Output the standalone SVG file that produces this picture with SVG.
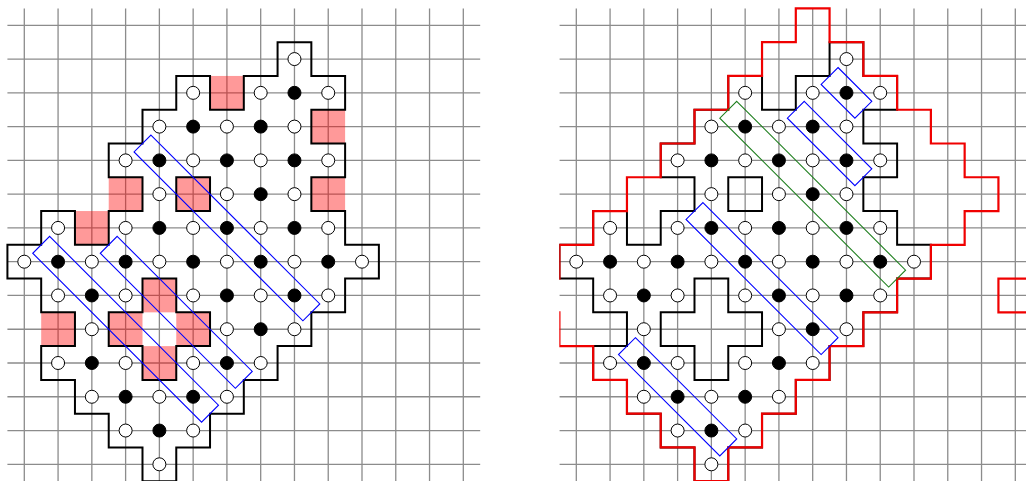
<svg xmlns="http://www.w3.org/2000/svg" xmlns:xlink="http://www.w3.org/1999/xlink" width="1026" height="481" viewBox="0 0 1026 481">
<style>
.grid{fill:none;stroke:#8c8c8c;stroke-width:1.3;vector-effect:non-scaling-stroke}
.pink{fill:#ff0000;fill-opacity:0.4;stroke:none}
.outline{fill:none;stroke:#000;stroke-width:2;stroke-linejoin:miter;vector-effect:non-scaling-stroke}
.red{fill:none;stroke:#f00000;stroke-width:2.2;vector-effect:non-scaling-stroke}
.w{fill:#fff;stroke:#000;stroke-width:1;vector-effect:non-scaling-stroke}
.b{fill:#000;stroke:#000;stroke-width:1;vector-effect:non-scaling-stroke}
.blue{fill:none;stroke:#0000ff;stroke-width:1.1;vector-effect:non-scaling-stroke}
.green{fill:none;stroke:#1f7f1f;stroke-width:1.1;vector-effect:non-scaling-stroke}
</style>
<defs>
<clipPath id="clipR"><rect x="559.3" y="0" width="480" height="481"/></clipPath>
<path id="grid" class="grid" fill="none" d="M0 -0.5V13.5M1 -0.5V13.5M2 -0.5V13.5M3 -0.5V13.5M4 -0.5V13.5M5 -0.5V13.5M6 -0.5V13.5M7 -0.5V13.5M8 -0.5V13.5M9 -0.5V13.5M10 -0.5V13.5M11 -0.5V13.5M12 -0.5V13.5M13 -0.5V13.5M-0.5 0H13.5M-0.5 1H13.5M-0.5 2H13.5M-0.5 3H13.5M-0.5 4H13.5M-0.5 5H13.5M-0.5 6H13.5M-0.5 7H13.5M-0.5 8H13.5M-0.5 9H13.5M-0.5 10H13.5M-0.5 11H13.5M-0.5 12H13.5M-0.5 13H13.5"/>
<g id="outline">
<path class="outline" fill="none" d="M7.5 0.5L8.5 0.5L8.5 1.5L9.5 1.5L9.5 2.5L8.5 2.5L8.5 3.5L9.5 3.5L9.5 4.5L8.5 4.5L8.5 5.5L9.5 5.5L9.5 6.5L10.5 6.5L10.5 7.5L9.5 7.5L9.5 8.5L8.5 8.5L8.5 9.5L7.5 9.5L7.5 10.5L6.5 10.5L6.5 11.5L5.5 11.5L5.5 12.5L4.5 12.5L4.5 13.5L3.5 13.5L3.5 12.5L2.5 12.5L2.5 11.5L1.5 11.5L1.5 10.5L0.5 10.5L0.5 9.5L1.5 9.5L1.5 8.5L0.5 8.5L0.5 7.5L-0.5 7.5L-0.5 6.5L0.5 6.5L0.5 5.5L1.5 5.5L1.5 6.5L2.5 6.5L2.5 5.5L3.5 5.5L3.5 4.5L2.5 4.5L2.5 3.5L3.5 3.5L3.5 2.5L4.5 2.5L4.5 1.5L5.5 1.5L5.5 2.5L6.5 2.5L6.5 1.5L7.5 1.5Z"/>
<path class="outline" fill="none" d="M4.5 4.5H5.5V5.5H4.5Z"/>
<path class="outline" fill="none" d="M3.5 7.5L4.5 7.5L4.5 8.5L5.5 8.5L5.5 9.5L4.5 9.5L4.5 10.5L3.5 10.5L3.5 9.5L2.5 9.5L2.5 8.5L3.5 8.5Z"/>
</g>
<g id="dots">
<circle class="w" cx="8" cy="1" r="0.1925"/>
<circle class="w" cx="5" cy="2" r="0.1925"/><circle class="w" cx="7" cy="2" r="0.1925"/><circle class="b" cx="8" cy="2" r="0.1925"/><circle class="w" cx="9" cy="2" r="0.1925"/>
<circle class="w" cx="4" cy="3" r="0.1925"/><circle class="b" cx="5" cy="3" r="0.1925"/><circle class="w" cx="6" cy="3" r="0.1925"/><circle class="b" cx="7" cy="3" r="0.1925"/><circle class="w" cx="8" cy="3" r="0.1925"/>
<circle class="w" cx="3" cy="4" r="0.1925"/><circle class="b" cx="4" cy="4" r="0.1925"/><circle class="w" cx="5" cy="4" r="0.1925"/><circle class="b" cx="6" cy="4" r="0.1925"/><circle class="w" cx="7" cy="4" r="0.1925"/><circle class="b" cx="8" cy="4" r="0.1925"/><circle class="w" cx="9" cy="4" r="0.1925"/>
<circle class="w" cx="4" cy="5" r="0.1925"/><circle class="w" cx="6" cy="5" r="0.1925"/><circle class="b" cx="7" cy="5" r="0.1925"/><circle class="w" cx="8" cy="5" r="0.1925"/>
<circle class="w" cx="1" cy="6" r="0.1925"/><circle class="w" cx="3" cy="6" r="0.1925"/><circle class="b" cx="4" cy="6" r="0.1925"/><circle class="w" cx="5" cy="6" r="0.1925"/><circle class="b" cx="6" cy="6" r="0.1925"/><circle class="w" cx="7" cy="6" r="0.1925"/><circle class="b" cx="8" cy="6" r="0.1925"/><circle class="w" cx="9" cy="6" r="0.1925"/>
<circle class="w" cx="0" cy="7" r="0.1925"/><circle class="b" cx="1" cy="7" r="0.1925"/><circle class="w" cx="2" cy="7" r="0.1925"/><circle class="b" cx="3" cy="7" r="0.1925"/><circle class="w" cx="4" cy="7" r="0.1925"/><circle class="b" cx="5" cy="7" r="0.1925"/><circle class="w" cx="6" cy="7" r="0.1925"/><circle class="b" cx="7" cy="7" r="0.1925"/><circle class="w" cx="8" cy="7" r="0.1925"/><circle class="b" cx="9" cy="7" r="0.1925"/><circle class="w" cx="10" cy="7" r="0.1925"/>
<circle class="w" cx="1" cy="8" r="0.1925"/><circle class="b" cx="2" cy="8" r="0.1925"/><circle class="w" cx="3" cy="8" r="0.1925"/><circle class="w" cx="5" cy="8" r="0.1925"/><circle class="b" cx="6" cy="8" r="0.1925"/><circle class="w" cx="7" cy="8" r="0.1925"/><circle class="b" cx="8" cy="8" r="0.1925"/><circle class="w" cx="9" cy="8" r="0.1925"/>
<circle class="w" cx="2" cy="9" r="0.1925"/><circle class="w" cx="6" cy="9" r="0.1925"/><circle class="b" cx="7" cy="9" r="0.1925"/><circle class="w" cx="8" cy="9" r="0.1925"/>
<circle class="w" cx="1" cy="10" r="0.1925"/><circle class="b" cx="2" cy="10" r="0.1925"/><circle class="w" cx="3" cy="10" r="0.1925"/><circle class="w" cx="5" cy="10" r="0.1925"/><circle class="b" cx="6" cy="10" r="0.1925"/><circle class="w" cx="7" cy="10" r="0.1925"/>
<circle class="w" cx="2" cy="11" r="0.1925"/><circle class="b" cx="3" cy="11" r="0.1925"/><circle class="w" cx="4" cy="11" r="0.1925"/><circle class="b" cx="5" cy="11" r="0.1925"/><circle class="w" cx="6" cy="11" r="0.1925"/>
<circle class="w" cx="3" cy="12" r="0.1925"/><circle class="b" cx="4" cy="12" r="0.1925"/><circle class="w" cx="5" cy="12" r="0.1925"/>
<circle class="w" cx="4" cy="13" r="0.1925"/>
</g>
</defs>

<g id="left-panel" transform="translate(24.3 25.3) scale(33.77)">
<use xlink:href="#grid" href="#grid"/>
<g id="left-pink-cells">
<rect class="pink" x="5.5" y="1.5" width="1" height="1"/>
<rect class="pink" x="8.5" y="2.5" width="1" height="1"/>
<rect class="pink" x="2.5" y="4.5" width="1" height="1"/>
<rect class="pink" x="4.5" y="4.5" width="1" height="1"/>
<rect class="pink" x="8.5" y="4.5" width="1" height="1"/>
<rect class="pink" x="1.5" y="5.5" width="1" height="1"/>
<rect class="pink" x="0.5" y="8.5" width="1" height="1"/>
<rect class="pink" x="3.5" y="7.5" width="1" height="1"/>
<rect class="pink" x="2.5" y="8.5" width="1" height="1"/>
<rect class="pink" x="4.5" y="8.5" width="1" height="1"/>
<rect class="pink" x="3.5" y="9.5" width="1" height="1"/>
</g>
<use xlink:href="#outline" href="#outline"/>
<use xlink:href="#dots" href="#dots"/>
<g id="left-boxes">
<polygon class="blue" fill="none" points="3.75,3.25 8.75,8.25 8.25,8.75 3.25,3.75"/>
<polygon class="blue" fill="none" points="0.75,6.25 5.75,11.25 5.25,11.75 0.25,6.75"/>
<polygon class="blue" fill="none" points="2.75,6.25 6.75,10.25 6.25,10.75 2.25,6.75"/>
</g>
</g>

<g id="right-panel" clip-path="url(#clipR)">
<g transform="translate(576.3 25.3) scale(33.77)">
<use xlink:href="#grid" href="#grid"/>
<use xlink:href="#outline" href="#outline"/>
<g id="right-red-boundary">
<path class="red" fill="none" d="M-1.5 7.5L-0.5 7.5L-0.5 6.5L0.5 6.5L0.5 5.5L1.5 5.5L1.5 4.5L2.5 4.5L2.5 3.5L3.5 3.5L3.5 2.5L4.5 2.5L4.5 1.5L5.5 1.5L5.5 0.5L6.5 0.5L6.5 -0.5L7.5 -0.5L7.5 0.5L8.5 0.5L8.5 1.5L9.5 1.5L9.5 2.5L10.5 2.5L10.5 3.5L11.5 3.5L11.5 4.5L12.5 4.5L12.5 5.5L11.5 5.5L11.5 6.5L10.5 6.5L10.5 7.5L9.5 7.5L9.5 8.5L8.5 8.5L8.5 9.5L7.5 9.5L7.5 10.5L6.5 10.5L6.5 11.5L5.5 11.5L5.5 12.5L4.5 12.5L4.5 13.5L3.5 13.5L3.5 12.5L2.5 12.5L2.5 11.5L1.5 11.5L1.5 10.5L0.5 10.5L0.5 9.5L-0.5 9.5L-0.5 8.5L-1.5 8.5"/>
<path class="red" fill="none" d="M14.5 7.5L12.5 7.5L12.5 8.5L14.5 8.5"/>
</g>
<use xlink:href="#dots" href="#dots"/>
<g id="right-boxes">
<polygon class="green" fill="none" points="4.75,2.25 9.75,7.25 9.25,7.75 4.25,2.75"/>
<polygon class="blue" fill="none" points="7.75,1.25 8.75,2.25 8.25,2.75 7.25,1.75"/>
<polygon class="blue" fill="none" points="6.75,2.25 8.75,4.25 8.25,4.75 6.25,2.75"/>
<polygon class="blue" fill="none" points="3.75,5.25 7.75,9.25 7.25,9.75 3.25,5.75"/>
<polygon class="blue" fill="none" points="1.75,9.25 4.75,12.25 4.25,12.75 1.25,9.75"/>
</g>
</g>
</g>
</svg>
